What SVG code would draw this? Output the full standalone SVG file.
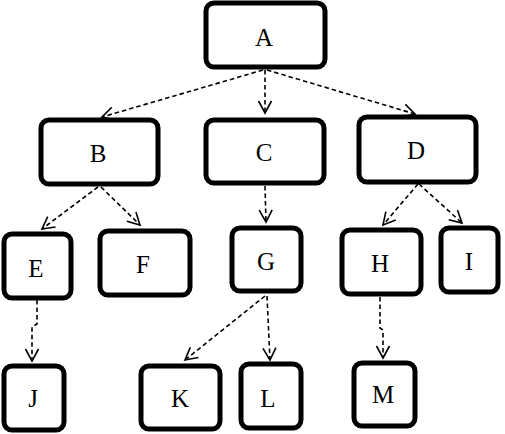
<svg xmlns="http://www.w3.org/2000/svg" width="505" height="434" viewBox="0 0 505 434">
<style>
.box{fill:#fff;stroke:#000;stroke-width:5}
.lbl{font-family:"Liberation Serif","Times New Roman",serif;font-size:25px;fill:#000;text-anchor:middle}
.edge{fill:none;stroke:#000;stroke-width:1.6;stroke-dasharray:4.5,3;marker-end:url(#arr)}
</style>
<defs>
<marker id="arr" markerUnits="userSpaceOnUse" markerWidth="16" markerHeight="16" viewBox="0 0 16 16" refX="13" refY="8" orient="auto">
<path d="M1,1.5 L13,8 L1,14.5" fill="none" stroke="#000" stroke-width="1.6"/>
</marker>
</defs>
<rect width="505" height="434" fill="#fff"/>
<g id="connectors">
<path class="edge" d="M263,70 L102,117"/>
<path class="edge" d="M265,70 L265,113"/>
<path class="edge" d="M267,70 L415,114"/>
<path class="edge" d="M98,187 L42,229"/>
<path class="edge" d="M101,187 L140,225"/>
<path class="edge" d="M265,186 L266,222"/>
<path class="edge" d="M418,184 L383,225"/>
<path class="edge" d="M419,184 L462,223"/>
<path class="edge" d="M37,300 L37,324 L32,327 L32,361"/>
<path class="edge" d="M265,296 L185,360"/>
<path class="edge" d="M267,296 L270,360"/>
<path class="edge" d="M380,297 L380,328 L383,330 L383,358"/>
</g>
<g id="A"><rect class="box" x="206" y="3" width="119" height="64" rx="8"/><text class="lbl" x="264" y="46">A</text></g>
<g id="B"><rect class="box" x="41" y="120" width="117" height="64" rx="8"/><text class="lbl" x="98" y="162">B</text></g>
<g id="C"><rect class="box" x="206" y="120" width="118" height="63" rx="8"/><text class="lbl" x="264" y="161">C</text></g>
<g id="D"><rect class="box" x="359" y="117" width="117" height="65" rx="8"/><text class="lbl" x="416" y="159">D</text></g>
<g id="E"><rect class="box" x="4" y="234" width="67" height="64" rx="8"/><text class="lbl" x="36" y="277">E</text></g>
<g id="F"><rect class="box" x="100" y="231" width="90" height="64" rx="8"/><text class="lbl" x="143" y="273">F</text></g>
<g id="G"><rect class="box" x="232" y="228" width="69" height="63" rx="8"/><text class="lbl" x="266" y="270">G</text></g>
<g id="H"><rect class="box" x="342" y="230" width="79" height="64" rx="8"/><text class="lbl" x="380" y="272">H</text></g>
<g id="I"><rect class="box" x="441" y="228" width="57" height="64" rx="8"/><text class="lbl" x="469" y="270">I</text></g>
<g id="J"><rect class="box" x="4" y="366" width="60" height="64" rx="8"/><text class="lbl" x="33" y="407">J</text></g>
<g id="K"><rect class="box" x="141" y="366" width="79" height="63" rx="8"/><text class="lbl" x="180" y="407">K</text></g>
<g id="L"><rect class="box" x="241" y="364" width="60" height="64" rx="8"/><text class="lbl" x="268" y="407">L</text></g>
<g id="M"><rect class="box" x="354" y="363" width="61" height="63" rx="8"/><text class="lbl" x="383" y="403">M</text></g>
</svg>
